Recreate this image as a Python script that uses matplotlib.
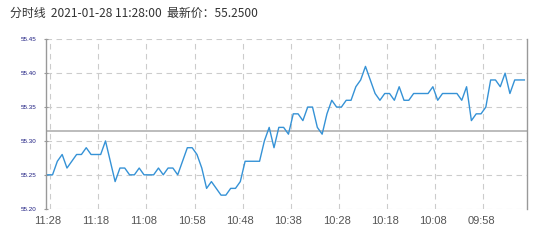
import matplotlib
matplotlib.use("Agg")
import matplotlib.pyplot as plt
import numpy as np

title_text = "分时线  2021-01-28 11:28:00  最新价：55.2500"
prices = [
    55.25, 55.25, 55.27, 55.28, 55.26, 55.27, 55.28, 55.28, 55.29, 55.28,
    55.28, 55.28, 55.30, 55.27, 55.24, 55.26, 55.26, 55.25, 55.25, 55.26,
    55.25, 55.25, 55.25, 55.26, 55.25, 55.26, 55.26, 55.25, 55.27, 55.29,
    55.29, 55.28, 55.26, 55.23, 55.24, 55.23, 55.22, 55.22, 55.23, 55.23,
    55.24, 55.27, 55.27, 55.27, 55.27, 55.30, 55.32, 55.29, 55.32, 55.32,
    55.31, 55.34, 55.34, 55.33, 55.35, 55.35, 55.32, 55.31, 55.34, 55.36,
    55.35, 55.35, 55.36, 55.36, 55.38, 55.39, 55.41, 55.39, 55.37, 55.36,
    55.37, 55.37, 55.36, 55.38, 55.36, 55.36, 55.37, 55.37, 55.37, 55.37,
    55.38, 55.36, 55.37, 55.37, 55.37, 55.37, 55.36, 55.38, 55.33, 55.34,
    55.34, 55.35, 55.39, 55.39, 55.38, 55.40, 55.37, 55.39, 55.39, 55.39,
]
prev_close = 55.314
x_tick_labels = ["11:28", "11:18", "11:08", "10:58", "10:48",
                 "10:38", "10:28", "10:18", "10:08", "09:58"]
y_ticks = [55.20, 55.25, 55.30, 55.35, 55.40, 55.45]

fig = plt.figure(figsize=(5.5, 2.41), dpi=100)
ax = fig.add_axes([45.7 / 550, 1 - 208.7 / 241, (527 - 45.7) / 550, (208.7 - 39.3) / 241])

n = len(prices)
x = np.arange(n)
ax.plot(x, prices, color="#3592d6", lw=1.0, zorder=3)
ax.axhline(prev_close, color="#b0b0b0", lw=1.2, zorder=2)

ax.set_xlim(-0.42, n - 0.45)
ax.set_ylim(y_ticks[0], y_ticks[-1])

# gridlines
for v in y_ticks:
    ax.axhline(v, color="#cccccc", lw=0.8, ls=(0, (5, 4)), zorder=1)
for k in range(len(x_tick_labels)):
    ax.axvline(10 * k + 0.5, color="#cccccc", lw=0.8, ls=(0, (5, 4)), zorder=1)

ax.set_xticks([10 * k for k in range(len(x_tick_labels))])
ax.set_xticklabels(x_tick_labels, family=["Liberation Sans"], fontsize=8, color="#555555")
ax.tick_params(axis="x", length=0, pad=5)

ax.set_yticks(y_ticks)
ax.set_yticklabels([f"{v:.2f}" for v in y_ticks], family=["Liberation Sans"],
                   fontsize=4.5, color="#1c1c80")
ax.tick_params(axis="y", length=3, width=0.8, color="#999999", direction="inout", pad=5)

for s in ["top", "bottom"]:
    ax.spines[s].set_visible(False)
for s in ["left", "right"]:
    ax.spines[s].set_color("#999999")
    ax.spines[s].set_linewidth(1.0)

fig.text(10 / 550, 1 - 13.5 / 241, title_text, family=["Noto Sans CJK SC", "DejaVu Sans"],
         fontsize=8.6, color="#333333", va="center", ha="left")

fig.savefig("out.png", dpi=100)
